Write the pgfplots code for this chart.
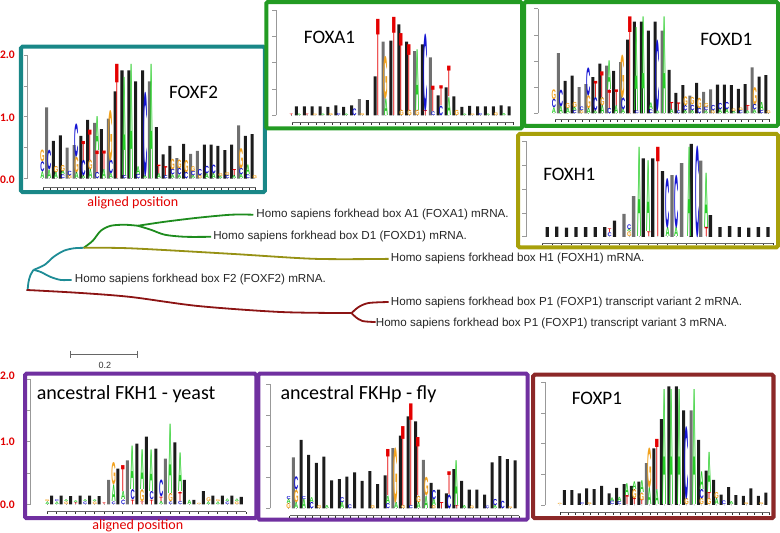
\documentclass[border=0pt]{standalone}
\usepackage{fontspec}
\setmainfont{Carlito}
\newfontfamily\arialf{Liberation Sans}
\usepackage{pgfplots}
\usepackage{pgfplotstable}
\pgfplotsset{compat=1.18}

\definecolor{logoA}{RGB}{40,205,40}
\definecolor{logoC}{RGB}{20,20,210}
\definecolor{logoG}{RGB}{242,162,30}
\definecolor{logoT}{RGB}{228,0,0}
\definecolor{frteal}{RGB}{25,135,135}
\definecolor{frgreen}{RGB}{35,155,35}
\definecolor{frolive}{RGB}{168,160,10}
\definecolor{frpurple}{RGB}{112,48,160}
\definecolor{frbrown}{RGB}{140,40,40}
\definecolor{trgreen}{RGB}{30,140,30}
\definecolor{trteal}{RGB}{30,140,150}
\definecolor{trolive}{RGB}{150,145,20}
\definecolor{trred}{RGB}{140,20,20}
\definecolor{lblred}{RGB}{225,0,0}
\definecolor{barblack}{RGB}{28,28,28}
\definecolor{bargray}{RGB}{112,112,112}

\def\letterfont{\arialf\bfseries\fontsize{5}{5}\selectfont}

\tikzset{yax/.style={black!40, line width=0.6pt}}
\pgfplotsset{
  canvas/.style={at={(0pt,0pt)}, anchor=north west, scale only axis, width=780pt, height=532pt,
    xmin=0, xmax=780, ymin=0, ymax=532, y dir=reverse, axis lines=none, clip=false},
  logo/.style={anchor=south west, scale only axis, axis x line=bottom, axis y line=none,
    x axis line style={-, black!60, line width=0.5pt}, xmin=0.5, ymax=2, clip=false,
    xtick align=outside, major tick length=2.5pt, xticklabels={}, ytick=\empty,
    tick style={black!80, line width=0.5pt}},
  letters/.style={only marks, mark=*, mark size=0.01pt, mark options={draw=none, fill=none},
    point meta=explicit symbolic,
    nodes near coords={\textcolor{logo\pgfplotspointmeta}{\pgfplotspointmeta}},
    visualization depends on={\thisrow{h}\as\hh},
    nodes near coords style={anchor=south, inner sep=0pt, outer sep=0pt, font=\letterfont,
      text height=3.58pt, text depth=0pt, xscale=1.15, yscale=\hh*#1}},
  blackbars/.style={ybar, bar width=#1, bar shift=0pt, fill=barblack, draw=none},
  graybars/.style={ybar, bar width=#1, bar shift=0pt, fill=bargray, draw=none},
}
\newcommand{\yaxisdraw}[1]{\draw[yax] (axis cs:#1,0) -- (axis cs:#1,2);
  \pgfplotsinvokeforeach{0,0.5,1,1.5,2}{\draw[yax] (axis cs:#1,##1) -- ++(-4pt,0pt);}}

% ---------- letter tables ----------
\pgfplotstableread{
x y h l
0.38 0 0.11 A
0.38 0.11 0.16 C
0.38 0.27 0.19 G
1.38 0 0.14 A
1.38 0.14 0.32 C
2.38 0 0.10 A
2.38 0.10 0.10 G
3.38 0 0.06 C
3.38 0.06 0.06 A
3.38 0.12 0.10 G
4.38 0 0.05 G
4.38 0.05 0.07 C
5.38 0 0.10 A
5.38 0.10 0.25 G
5.38 0.35 0.54 C
6.38 0 0.05 A
6.38 0.05 0.25 C
6.38 0.30 0.32 T
7.38 0 0.15 A
7.38 0.15 0.15 G
7.38 0.30 0.51 T
8.38 0 0.10 C
8.38 0.10 0.36 T
8.38 0.46 0.57 A
9.38 0 0.15 A
9.38 0.15 0.31 T
10.38 0 0.08 A
10.38 0.08 0.22 C
10.38 0.30 0.83 G
11.38 0 1.92 T
12.38 0 0.05 C
12.38 0.05 1.65 A
13.38 0 1.92 A
14.38 0 0.07 C
14.38 0.07 0.13 A
15.38 0 0.05 A
15.38 0.05 1.38 C
16.38 0 1.92 A
17.38 0 0.08 A
17.38 0.08 0.14 T
18.38 0 0.05 C
18.38 0.05 0.15 T
19.38 0 0.06 A
19.38 0.06 0.09 C
19.38 0.15 0.17 G
20.38 0 0.06 A
20.38 0.06 0.10 C
20.38 0.16 0.14 G
21.38 0 0.10 C
21.38 0.10 0.20 G
22.38 0 0.05 A
22.38 0.05 0.07 C
22.38 0.12 0.08 G
23.38 0 0.05 G
23.38 0.05 0.10 C
24.38 0 0.08 A
24.38 0.08 0.12 C
25.38 0 0.08 A
25.38 0.08 0.14 C
26.38 0 0.04 A
26.38 0.04 0.05 G
27.38 0 0.05 C
27.38 0.05 0.05 G
28.38 0 0.05 A
28.38 0.05 0.10 T
29.38 0 0.07 A
29.38 0.07 0.10 C
29.38 0.17 0.33 G
30.38 0 0.06 C
30.38 0.06 0.16 A
31.38 0 0.05 G
}\tabF

\pgfplotstableread{
x y h l
0.36 0 0.03 T
1.36 0 0.03 A
2.36 0 0.03 T
3.36 0 0.03 G
4.36 0 0.03 A
5.36 0 0.04 G
6.36 0 0.04 C
7.36 0 0.03 A
8.36 0 0.13 C
9.36 0 0.04 G
11.36 0 1.90 T
12.36 0 0.32 A
12.36 0.32 0.82 G
13.36 0 1.94 T
14.36 0 0.10 G
14.36 0.10 1.52 T
15.36 0 0.10 G
15.36 0.10 1.30 T
16.36 0 0.10 G
16.36 0.10 1.20 A
17.36 0 0.10 T
17.36 0.10 1.49 C
18.36 0 0.07 C
18.36 0.07 0.50 T
19.36 0 0.18 C
19.36 0.18 0.39 T
20.36 0 0.35 A
20.36 0.35 0.60 T
21.36 0 0.10 G
22.36 0 0.03 A
23.36 0 0.03 G
24.36 0 0.04 C
25.36 0 0.03 A
26.36 0 0.05 G
27.36 0 0.04 A
}\tabA

\pgfplotstableread{
x y h l
7.50 0 0.08 C
7.50 0.08 0.08 T
9.55 0 0.10 G
9.55 0.10 0.06 A
9.55 0.16 0.10 C
10.60 0 1.94 A
11.60 0 0.10 T
11.60 0.10 1.54 A
12.53 0 1.94 T
13.55 0 0.20 A
13.55 0.20 1.05 C
14.45 0 0.20 A
14.45 0.20 1.12 C
15.80 0 1.94 A
16.62 0 1.94 C
17.58 0 0.20 T
17.58 0.20 1.18 A
}\tabH

\pgfplotstableread{
x y h l
0.55 0 0.04 A
0.55 0.04 0.03 G
1.55 0 0.04 A
1.55 0.04 0.03 C
2.55 0 0.04 G
2.55 0.04 0.03 A
3.55 0 0.03 T
3.55 0.03 0.03 A
4.55 0 0.04 C
4.55 0.04 0.03 A
5.55 0 0.04 G
5.55 0.04 0.03 A
6.55 0 0.03 T
7.55 0 0.04 C
7.55 0.04 0.27 A
7.55 0.31 0.36 G
8.55 0 0.07 C
8.55 0.07 0.13 A
8.55 0.20 0.43 T
9.55 0 0.07 T
9.55 0.07 0.16 C
9.55 0.23 0.72 A
10.55 0 0.04 T
10.55 0.04 0.19 G
10.55 0.23 0.66 A
11.55 0 0.07 T
11.55 0.07 0.13 C
11.55 0.20 0.69 A
12.55 0 0.05 A
12.55 0.05 0.07 T
12.55 0.12 0.27 C
13.55 0 0.04 C
13.55 0.04 0.13 G
13.55 0.17 1.15 A
14.55 0 0.05 C
14.55 0.05 0.15 T
14.55 0.20 0.64 A
15.55 0 0.07 A
16.55 0 0.02 G
17.55 0 0.04 A
17.55 0.04 0.06 G
18.55 0 0.04 A
18.55 0.04 0.03 G
19.55 0 0.04 C
19.55 0.04 0.04 A
20.55 0 0.04 G
20.55 0.04 0.04 A
}\tabY

\pgfplotstableread{
x y h l
0.38 0 0.08 G
0.38 0.08 0.07 A
0.38 0.15 0.05 C
1.38 0 0.10 A
1.38 0.10 0.20 G
1.38 0.30 0.21 C
2.38 0 0.15 A
2.38 0.15 0.05 C
3.38 0 0.10 C
3.38 0.10 0.08 A
4.38 0 0.05 G
5.38 0 0.05 A
7.38 0 0.10 A
7.38 0.10 0.08 C
8.38 0 0.06 C
11.38 0 0.05 G
13.38 0 0.08 C
13.38 0.08 0.12 A
13.38 0.20 0.77 T
14.45 0 0.10 A
14.45 0.10 0.90 G
15.38 0 0.05 G
15.38 0.05 1.32 T
16.38 0 0.05 C
16.38 0.05 1.70 T
17.38 0 0.10 A
17.38 0.10 0.10 G
17.38 0.20 0.97 T
18.38 0 0.20 A
18.38 0.20 0.30 G
19.38 0 0.05 G
19.38 0.05 0.10 A
19.38 0.15 0.15 C
20.38 0 0.10 T
21.38 0 0.22 C
21.38 0.22 0.38 T
22.38 0 0.05 T
22.38 0.05 0.75 A
23.38 0 0.05 A
24.38 0 0.04 G
26.38 0 0.04 C
27.38 0 0.05 A
27.38 0.05 0.10 C
28.38 0 0.12 C
29.38 0 0.03 G
}\tabFly

\pgfplotstableread{
x y h l
0.40 0 0.02 G
3.40 0 0.03 C
4.40 0 0.03 G
7.40 0 0.06 C
7.40 0.06 0.06 A
8.40 0 0.05 C
8.40 0.05 0.07 A
9.40 0 0.15 T
9.40 0.15 0.20 A
10.40 0 0.10 T
10.40 0.10 0.15 G
10.40 0.25 0.13 A
11.40 0 0.08 T
11.40 0.08 0.12 G
11.40 0.20 0.20 A
12.40 0 0.28 A
12.40 0.28 0.66 G
13.40 0 0.25 A
13.40 0.25 0.85 T
14.40 0 1.95 A
15.40 0 1.95 A
16.40 0 1.95 A
17.40 0 0.10 G
17.40 0.10 1.20 C
18.40 0 1.95 A
19.40 0 0.10 G
19.40 0.10 0.15 C
19.40 0.25 0.30 A
20.40 0 0.10 G
20.40 0.10 0.10 T
20.40 0.20 0.68 A
21.40 0 0.10 A
21.40 0.10 0.10 G
22.40 0 0.06 C
23.40 0 0.05 A
25.40 0 0.03 G
27.40 0 0.03 G
}\tabP

\begin{document}
\begin{tikzpicture}
% ================= canvas: frames, tree, labels =================
\begin{axis}[canvas]
\draw[frteal, line width=4pt, rounded corners=1.5pt] (axis cs:23.5,46.5) rectangle (axis cs:266.5,191.5);
\draw[frgreen, line width=4pt, rounded corners=1.5pt] (axis cs:268,2) rectangle (axis cs:523,128);
\draw[frgreen, line width=4pt, rounded corners=1.5pt] (axis cs:525,2) rectangle (axis cs:778,125.5);
\draw[frolive, line width=4pt, rounded corners=1.5pt] (axis cs:519,133.5) rectangle (axis cs:778,246.5);
\draw[frpurple, line width=4pt, rounded corners=1.5pt] (axis cs:27.5,372.5) rectangle (axis cs:258,516.5);
\draw[frpurple, line width=4pt, rounded corners=1.5pt] (axis cs:260,372.5) rectangle (axis cs:528.5,518);
\draw[frbrown, line width=4pt, rounded corners=1.5pt] (axis cs:534,373.5) rectangle (axis cs:773.5,516.5);

% tree
\addplot[trteal, line width=1.8pt, smooth] coordinates {(30,290) (31,281) (33,274) (36,269)};
\addplot[trteal, line width=1.8pt, smooth] coordinates {(36,269) (43,271) (53,276) (63,279) (74,279)};
\addplot[trteal, line width=1.8pt, smooth] coordinates {(36,269) (47,264) (56,256) (66,250) (76,247.5) (86,247)};
\addplot[trgreen, line width=1.8pt, smooth] coordinates {(86,247) (95,240) (103,230) (113,225) (127,224) (140,225)};
\addplot[trgreen, line width=1.8pt, smooth] coordinates {(140,225) (167,221) (200,217) (233,214) (255,214)};
\addplot[trgreen, line width=1.8pt, smooth] coordinates {(140,225) (153,229) (167,234) (187,236) (213,236)};
\addplot[trolive, line width=1.8pt, smooth] coordinates {(86,247) (133,247.5) (233,253) (317,258) (390,258)};
\addplot[trred, line width=1.8pt, smooth] coordinates {(29,289) (83,292) (133,296) (200,305) (283,311) (353,312)};
\addplot[trred, line width=1.8pt, smooth] coordinates {(353,312) (360,306) (370,302) (390,301)};
\addplot[trred, line width=1.8pt, smooth] coordinates {(353,312) (357,316) (364,320) (377,321)};

\begin{scope}[every node/.style={anchor=west, inner sep=1pt, text=black!85, font=\arialf\fontsize{11.6}{11.6}\selectfont}]
\node at (axis cs:257,214) {Homo sapiens forkhead box A1 (FOXA1) mRNA.};
\node at (axis cs:214,236) {Homo sapiens forkhead box D1 (FOXD1) mRNA.};
\node at (axis cs:391,258) {Homo sapiens forkhead box H1 (FOXH1) mRNA.};
\node at (axis cs:76,279) {Homo sapiens forkhead box F2 (FOXF2) mRNA.};
\node at (axis cs:391,301) {Homo sapiens forkhead box P1 (FOXP1) transcript variant 2 mRNA.};
\node at (axis cs:376,322) {Homo sapiens forkhead box P1 (FOXP1) transcript variant 3 mRNA.};
\end{scope}

% scale bar
\draw[black!60, line width=0.7pt] (axis cs:73,353) -- (axis cs:139,353);
\draw[black!60, line width=0.7pt] (axis cs:73,349.5) -- (axis cs:73,356.5);
\draw[black!60, line width=0.7pt] (axis cs:139,349.5) -- (axis cs:139,356.5);
\node[font=\arialf\fontsize{9}{9}\selectfont, text=black!80] at (axis cs:107,364) {0.2};

% titles
\node[anchor=base, font=\fontsize{19}{19}\selectfont] at (axis cs:195.5,98) {FOXF2};
\node[anchor=base, font=\fontsize{19}{19}\selectfont] at (axis cs:331,43) {FOXA1};
\node[anchor=base, font=\fontsize{19}{19}\selectfont] at (axis cs:726.5,45) {FOXD1};
\node[anchor=base, font=\fontsize{19}{19}\selectfont] at (axis cs:570,180) {FOXH1};
\node[anchor=base west, inner sep=0pt, font=\fontsize{20}{20}\selectfont] at (axis cs:39,398) {ancestral FKH1 - yeast};
\node[anchor=base west, inner sep=0pt, font=\fontsize{20}{20}\selectfont] at (axis cs:282,398) {ancestral FKHp - fly};
\node[anchor=base, font=\fontsize{19}{19}\selectfont] at (axis cs:597.5,403) {FOXP1};

% red axis texts
\node[anchor=base, text=lblred, inner sep=0pt, font=\fontsize{14}{14}\selectfont] at (axis cs:135,205.5) {aligned position};
\node[anchor=base, text=lblred, inner sep=0pt, font=\fontsize{14}{14}\selectfont] at (axis cs:140,528) {aligned position};
\begin{scope}[every node/.style={anchor=east, inner sep=0pt, text=lblred, font=\bfseries\fontsize{11.5}{11.5}\selectfont}]
\node at (axis cs:17.5,55) {2.0};
\node at (axis cs:17.5,117.5) {1.0};
\node at (axis cs:17.5,179.5) {0.0};
\node at (axis cs:17.5,375) {2.0};
\node at (axis cs:17.5,440.5) {1.0};
\node at (axis cs:17.5,503.5) {0.0};
\end{scope}
\end{axis}

% ================= FOXF2 =================
\begin{axis}[logo, at={(45.6pt,-187pt)}, width=211.8pt, height=132.3pt, xmax=31.5, ymin=-0.146, xtick={0.5,1.5,...,31.5}]
\addplot[letters=17.23] table[x=x,y=y,meta=l] {\tabF};
\addplot[graybars=3pt] coordinates {(1,1.15)(4,0.50)(5,0.54)(8,0.90)(10,0.97)(16,1.57)(20,0.33)(22,0.40)(23,0.45)(29,0.86)};
\addplot[blackbars=3pt] coordinates {(2,0.61)(3,0.70)(6,0.69)(7,0.95)(9,0.80)(11,1.41)(12,1.75)(13,1.75)(14,1.57)(15,1.75)(17,0.83)(18,0.39)(19,0.53)(21,0.56)(24,0.55)(25,0.55)(26,0.53)(27,0.46)(28,0.55)(30,0.69)(31,0.72)};
\yaxisdraw{-1.78}
\end{axis}

% ================= FOXA1 =================
\begin{axis}[logo, at={(294.1pt,-122pt)}, width=219.8pt, height=112pt, xmax=28.5, ymin=-0.133, xtick={0.5,1.5,...,28.5}]
\addplot[letters=14.66] table[x=x,y=y,meta=l] {\tabA};
\addplot[graybars=3pt] coordinates {(9,0.31)(12,1.40)(16,1.22)(18,1.10)};
\addplot[blackbars=3pt] coordinates {(1,0.17)(2,0.17)(3,0.17)(4,0.17)(5,0.16)(6,0.19)(7,0.16)(8,0.19)(10,0.29)(11,0.74)(13,1.42)(14,1.73)(15,1.40)(17,1.35)(19,0.38)(20,0.53)(21,0.36)(22,0.16)(23,0.18)(24,0.17)(25,0.17)(26,0.17)(27,0.19)(28,0.17)};
\yaxisdraw{-1.55}
\end{axis}

% ================= FOXD1 =================
\begin{axis}[logo, at={(555.55pt,-119pt)}, width=213.9pt, height=110.4pt, xmax=31.5, ymin=-0.115, xtick={0.5,1.5,...,31.5}]
\addplot[letters=14.58] table[x=x,y=y,meta=l] {\tabF};
\addplot[graybars=3pt] coordinates {(1,1.15)(4,0.50)(5,0.56)(8,0.91)(10,0.98)(16,1.58)(20,0.34)(22,0.41)(23,0.46)(29,0.88)};
\addplot[blackbars=3pt] coordinates {(2,0.62)(3,0.72)(6,0.69)(7,0.95)(9,0.81)(11,1.41)(12,1.75)(13,1.75)(14,1.58)(15,1.75)(17,0.83)(18,0.39)(19,0.54)(21,0.58)(24,0.55)(25,0.55)(26,0.54)(27,0.47)(28,0.56)(30,0.70)(31,0.73)};
\yaxisdraw{-1.90}
\end{axis}

% ================= FOXH1 =================
\begin{axis}[logo, at={(543.2pt,-242pt)}, width=229.6pt, height=101.4pt, xmax=24.5, ymin=-0.126, xtick={0.5,1.5,...,24.5}]
\addplot[letters=13.32] table[x=x,y=y,meta=l] {\tabH};
\addplot[graybars=3.3pt] coordinates {(9,0.48)(10,0.85)(14,1.29)(15,1.54)(17,1.59)};
\addplot[blackbars=3.3pt] coordinates {(1,0.20)(2,0.21)(3,0.19)(4,0.20)(5,0.20)(6,0.20)(7,0.20)(8,0.34)(11,1.64)(12,1.64)(13,1.37)(16,1.94)(18,0.45)(19,0.20)(20,0.22)(21,0.20)(22,0.19)(23,0.20)(24,0.20)};
\yaxisdraw{-1.20}
\end{axis}

% ================= yeast =================
\begin{axis}[logo, at={(49.3pt,-510pt)}, width=198.45pt, height=132.3pt, xmax=21.5, ymin=-0.117, xtick={0.5,1.5,...,21.5}]
\addplot[letters=17.46] table[x=x,y=y,meta=l] {\tabY};
\addplot[graybars=3pt] coordinates {(7,0.39)(9,0.70)(13,0.73)};
\addplot[blackbars=3pt] coordinates {(1,0.14)(2,0.14)(3,0.13)(4,0.14)(5,0.14)(6,0.13)(8,0.57)(10,0.97)(11,1.08)(12,0.89)(14,0.99)(15,0.39)(16,0.07)(17,0.21)(18,0.14)(19,0.14)(20,0.14)(21,0.12)};
\yaxisdraw{-1.22}
\end{axis}

% ================= fly =================
\begin{axis}[logo, at={(291.2pt,-514pt)}, width=228.6pt, height=131.3pt, xmax=30.5, ymin=-0.118, xtick={0.5,1.5,...,30.5}]
\addplot[letters=17.32] table[x=x,y=y,meta=l] {\tabFly};
\addplot[graybars=3pt] coordinates {(1,0.82)(14,0.97)(18,0.78)};
\addplot[blackbars=3pt] coordinates {(2,1.10)(3,0.86)(4,0.73)(5,0.83)(6,0.45)(7,0.47)(8,0.51)(9,0.58)(10,0.44)(11,0.60)(12,0.39)(13,0.53)(15,1.17)(16,1.48)(17,1.40)(19,0.41)(20,0.30)(21,0.24)(22,0.63)(23,0.44)(24,0.30)(25,0.30)(26,0.22)(27,0.74)(28,0.84)(29,0.79)(30,0.77)};
\yaxisdraw{-2.02}
\end{axis}

% ================= FOXP1 =================
\begin{axis}[logo, at={(561.3pt,-510.7pt)}, width=208.3pt, height=129.8pt, xmax=28.5, ymin=-0.121, xtick={0.5,1.5,...,28.5}]
\addplot[letters=17.09] table[x=x,y=y,meta=l] {\tabP};
\addplot[graybars=3pt] coordinates {(12,0.68)(18,1.54)};
\addplot[blackbars=3pt] coordinates {(1,0.24)(2,0.24)(3,0.19)(4,0.27)(5,0.26)(6,0.31)(7,0.19)(8,0.28)(9,0.34)(10,0.31)(11,0.38)(13,0.92)(14,1.40)(15,1.93)(16,1.93)(17,1.54)(19,1.06)(20,0.56)(21,0.41)(22,0.17)(23,0.29)(24,0.16)(25,0.15)(26,0.27)(27,0.15)(28,0.20)};
\yaxisdraw{-1.55}
\end{axis}
\end{tikzpicture}
\end{document}
